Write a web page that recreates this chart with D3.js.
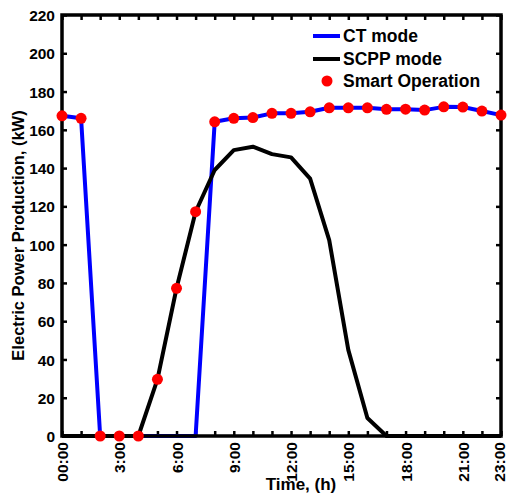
<!DOCTYPE html>
<html>
<head>
<meta charset="utf-8">
<script src="https://cdn.jsdelivr.net/npm/d3@7"></script>
<style>
  html, body { margin: 0; padding: 0; background: #fff; }
  svg text { font-family: "Liberation Sans", Arial, Helvetica, sans-serif; font-weight: bold; fill: #000; }
</style>
</head>
<body>
<svg id="chart" width="507" height="493"></svg>
<script>
// Data (hour of day 0..23)
const hours = d3.range(0, 24);
const ctMode =   [167.3, 166.0, 0, 0, 0, 0, 0, 0, 164.2, 166.0, 166.4, 168.6, 168.6, 169.4, 171.5, 171.5, 171.5, 170.7, 170.8, 170.3, 172.0, 171.9, 169.8, 167.7];
const scppMode = [0, 0, 0, 0, 0, 29.6, 77.2, 117.2, 139.0, 149.4, 151.2, 147.3, 145.6, 134.5, 102.4, 45.0, 9.4, 0, 0, 0, 0, 0, 0, 0];
const smartOp =  [167.3, 166.0, 0, 0, 0, 29.6, 77.2, 117.2, 164.2, 166.0, 166.4, 168.6, 168.6, 169.4, 171.5, 171.5, 171.5, 170.7, 170.8, 170.3, 172.0, 171.9, 169.8, 167.7];
const xTickLabels = ["00:00", "3:00", "6:00", "9:00", "12:00", "15:00", "18:00", "21:00", "23:00"];
const xTickValues = [0, 3, 6, 9, 12, 15, 18, 21, 23];
const yTickValues = [0, 20, 40, 60, 80, 100, 120, 140, 160, 180, 200, 220];
const legendLabels = ["CT mode", "SCPP mode", "Smart Operation"];

const svg = d3.select("#chart");
const margin = { left: 62, right: 6, top: 15, bottom: 57 };
const W = 507, H = 493;
const x = d3.scaleLinear().domain([0, 23]).range([margin.left, W - margin.right]);
const y = d3.scaleLinear().domain([0, 220]).range([H - margin.bottom, margin.top]);

const tickLen = 5;
// minor ticks every hour, bottom & top (inward)
const g = svg.append("g");
g.append("g").attr("transform", `translate(0,${y(0)})`)
  .call(d3.axisBottom(x).tickValues(hours).tickSize(-tickLen).tickFormat(""))
  .call(a => a.select(".domain").remove());
g.append("g").attr("transform", `translate(0,${y(220)})`)
  .call(d3.axisTop(x).tickValues(hours).tickSize(-tickLen).tickFormat(""))
  .call(a => a.select(".domain").remove());
g.append("g").attr("transform", `translate(${x(0)},0)`)
  .call(d3.axisLeft(y).tickValues(yTickValues).tickSize(-tickLen).tickFormat(""))
  .call(a => a.select(".domain").remove());
g.append("g").attr("transform", `translate(${x(23)},0)`)
  .call(d3.axisRight(y).tickValues(yTickValues).tickSize(-tickLen).tickFormat(""))
  .call(a => a.select(".domain").remove());
g.selectAll(".tick line").attr("stroke", "#000").attr("stroke-width", 2.5);

// lines
const line = d3.line().x((d, i) => x(hours[i])).y(d => y(d));
svg.append("path").datum(ctMode).attr("d", line)
  .attr("fill", "none").attr("stroke", "#0000ff").attr("stroke-width", 4).attr("stroke-linejoin", "round");
svg.append("path").datum(scppMode).attr("d", line)
  .attr("fill", "none").attr("stroke", "#000").attr("stroke-width", 4).attr("stroke-linejoin", "round");

// frame
svg.append("rect").attr("x", x(0)).attr("y", y(220))
  .attr("width", x(23) - x(0)).attr("height", y(0) - y(220))
  .attr("fill", "none").attr("stroke", "#000").attr("stroke-width", 3.5);

// dots
svg.append("g").selectAll("circle").data(smartOp).join("circle")
  .attr("cx", (d, i) => x(hours[i])).attr("cy", d => y(d)).attr("r", 5.5)
  .attr("fill", "#ff0000");

// y tick labels
svg.append("g").attr("transform", `translate(${x(0) - 7},0)`)
  .call(d3.axisLeft(y).tickValues(yTickValues).tickSize(0).tickPadding(0))
  .call(a => a.select(".domain").remove())
  .selectAll("text").style("font-size", "15.5px").attr("dy", "0.36em");

// x tick labels (rotated)
const xl = svg.append("g").attr("transform", `translate(0,${y(0)})`)
  .call(d3.axisBottom(x).tickValues(xTickValues).tickSize(0).tickFormat((d, i) => xTickLabels[i]))
  .call(a => a.select(".domain").remove());
xl.selectAll("text")
  .style("font-size", "15.5px")
  .attr("text-anchor", "end")
  .attr("y", 0).attr("dy", "0.36em")
  .attr("transform", d => `translate(${d === 23 ? -2.5 : 0},6) rotate(-90)`)
  .attr("x", 0);

// axis titles
svg.append("text").attr("transform", `translate(24,${(y(0) + y(220)) / 2 + 10}) rotate(-90)`)
  .attr("text-anchor", "middle").style("font-size", "16.5px")
  .text("Electric Power Production, (kW)");
svg.append("text").attr("x", 301).attr("y", 490)
  .attr("text-anchor", "middle").style("font-size", "17px")
  .text("Time, (h)");

// legend
const lg = svg.append("g");
const ly = [36, 59, 81];
lg.append("line").attr("x1", 313).attr("x2", 340).attr("y1", ly[0]).attr("y2", ly[0])
  .attr("stroke", "#0000ff").attr("stroke-width", 4);
lg.append("line").attr("x1", 313).attr("x2", 340).attr("y1", ly[1]).attr("y2", ly[1])
  .attr("stroke", "#000").attr("stroke-width", 4);
lg.append("circle").attr("cx", 327).attr("cy", ly[2]).attr("r", 5.5).attr("fill", "#ff0000");
lg.selectAll("text").data(legendLabels).join("text")
  .attr("x", 343).attr("y", (d, i) => ly[i]).attr("dy", "0.36em")
  .style("font-size", "17.5px").text(d => d);
</script>
</body>
</html>
